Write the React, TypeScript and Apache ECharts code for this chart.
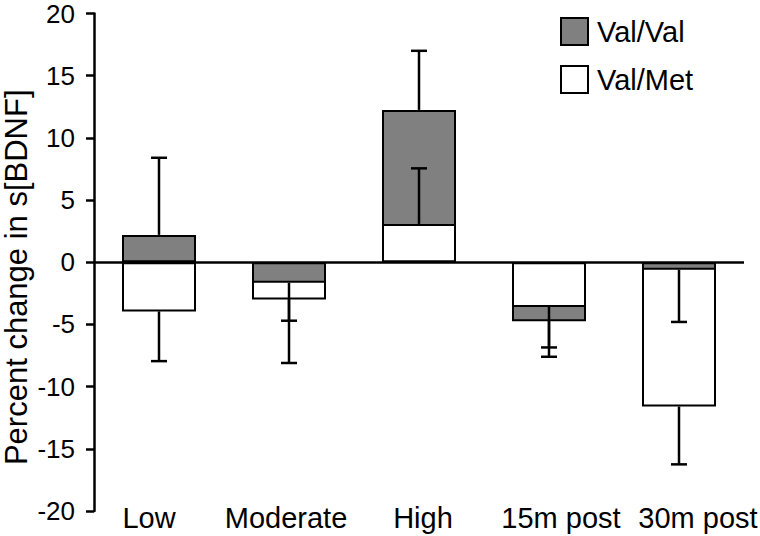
import React, { useEffect, useRef } from "react";
import * as echarts from "echarts";

const categories = ["Low", "Moderate", "High", "15m post", "30m post"];
const valVal = [2.2, -1.65, 12.25, -4.74, -0.6];
const valMet = [-3.95, -3.0, 3.08, -3.6, -11.6];
const valValErr = [8.4, -4.7, 17.0, -7.6, -4.8];
const valMetErr = [-7.95, -8.1, 7.55, -6.85, -16.25];
const yTicks = { min: -20, max: 20, interval: 5 };
// horizontal nudge of each category label in the reference (px, + = right)
const labelShift = [-10, -3, 4, 12, 19];

const FONT = "'Liberation Sans', Arial, Helvetica, sans-serif";

export default function App() {
  const ref = useRef<HTMLDivElement>(null);
  useEffect(() => {
    if (!ref.current) return;
    const chart = echarts.init(ref.current, null, { renderer: "svg" });
    const vvBack = valVal.map((v, i) => (Math.abs(v) >= Math.abs(valMet[i]) ? v : "-"));
    const vvFront = valVal.map((v, i) => (Math.abs(v) < Math.abs(valMet[i]) ? v : "-"));
    const errData: number[][] = [];
    valVal.forEach((v, i) => errData.push([i, v, valValErr[i]]));
    valMet.forEach((v, i) => errData.push([i, v, valMetErr[i]]));
    const barStyle = (color: string) => ({ color, borderColor: "#000", borderWidth: 2 });
    const rich: Record<string, any> = {};
    labelShift.forEach((s, i) => {
      rich["c" + i] = {
        fontSize: 29,
        color: "#000",
        fontFamily: FONT,
        padding: s >= 0 ? [0, 0, 0, 2 * s] : [0, -2 * s, 0, 0],
      };
    });
    chart.setOption({
      animation: false,
      textStyle: { fontFamily: FONT },
      grid: { left: 94, right: 16, top: 13.5, bottom: 25, outerBoundsMode: "none", containLabel: false },
      legend: {
        orient: "vertical",
        left: 560,
        top: 17,
        padding: 0,
        icon: "rect",
        itemWidth: 27,
        itemHeight: 27,
        itemGap: 19,
        data: ["Val/Val", "Val/Met"],
        textStyle: { fontSize: 29, color: "#000", fontFamily: FONT, padding: [0, 0, 0, 4] },
      },
      xAxis: {
        type: "category",
        data: categories,
        axisLine: { show: false, onZero: false },
        axisTick: { show: false },
        axisLabel: {
          interval: 0,
          margin: -8,
          fontSize: 29,
          color: "#000",
          fontFamily: FONT,
          formatter: (v: string, i: number) => "{c" + i + "|" + v + "}",
          rich,
        },
        splitLine: { show: false },
      },
      yAxis: {
        type: "value",
        min: yTicks.min,
        max: yTicks.max,
        interval: yTicks.interval,
        name: "Percent change in s[BDNF]",
        nameLocation: "middle",
        nameGap: 62,
        nameMoveOverlap: false,
        nameTextStyle: { fontSize: 31, color: "#000", fontFamily: FONT, padding: [0, 30, 0, 0] },
        axisLine: { show: true, lineStyle: { color: "#000", width: 2.5 } },
        axisTick: { show: true, length: 8, lineStyle: { color: "#000", width: 2.5 } },
        axisLabel: { margin: 19, fontSize: 26, color: "#000", fontFamily: FONT },
        splitLine: { show: false },
      },
      series: [
        {
          name: "Val/Val",
          type: "bar",
          data: vvBack,
          barWidth: 74,
          barGap: "-100%",
          itemStyle: barStyle("#808080"),
        },
        {
          name: "Val/Met",
          type: "bar",
          data: valMet,
          barWidth: 74,
          barGap: "-100%",
          itemStyle: barStyle("#ffffff"),
          markLine: {
            silent: true,
            symbol: "none",
            label: { show: false },
            lineStyle: { color: "#000", width: 2.5, type: "solid" },
            data: [{ yAxis: 0 }],
          },
        },
        {
          name: "Val/Val",
          type: "bar",
          data: vvFront,
          barWidth: 74,
          barGap: "-100%",
          itemStyle: barStyle("#808080"),
        },
        {
          name: "err",
          type: "custom",
          z: 10,
          data: errData,
          encode: { x: 0, y: [1, 2] },
          renderItem: (params: any, api: any) => {
            const i = api.value(0);
            const p1 = api.coord([i, api.value(1)]);
            const p2 = api.coord([i, api.value(2)]);
            const style = { stroke: "#000", lineWidth: 2.5 };
            return {
              type: "group",
              children: [
                { type: "line", shape: { x1: p1[0], y1: p1[1], x2: p2[0], y2: p2[1] }, style },
                { type: "line", shape: { x1: p2[0] - 8, y1: p2[1], x2: p2[0] + 8, y2: p2[1] }, style },
              ],
            };
          },
        },
      ],
    });
    return () => chart.dispose();
  }, []);
  return <div ref={ref} style={{ position: "absolute", left: 0, top: 0, width: 760, height: 536 }} />;
}
